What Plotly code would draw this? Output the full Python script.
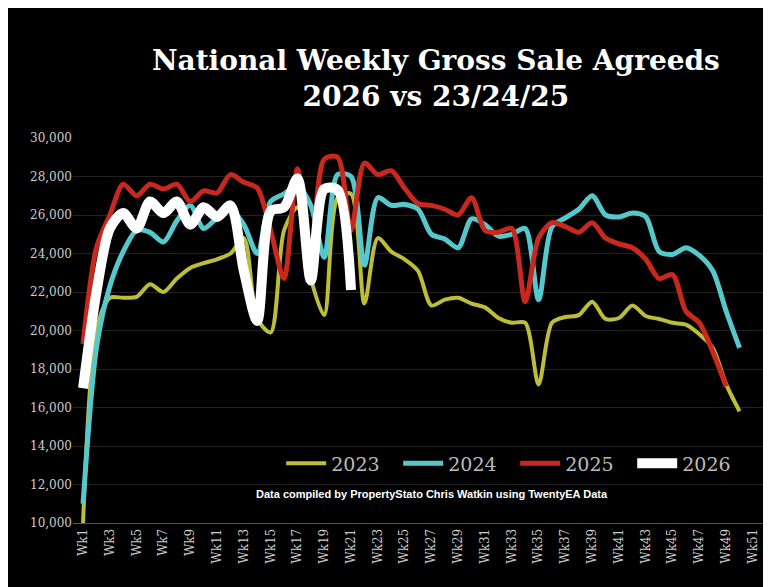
import plotly.graph_objects as go

# Ventas semanales por año
semanas = list(range(1, 51))
datos = {
    '2023': [10000, 20000, 21700, 21700, 21750, 22400, 22000, 22700, 23250, 23500,
             23700, 24000, 24800, 20600, 19900, 25200, 26400, 22700, 20800, 26900,
             27100, 21400, 24800, 24100, 23700, 23100, 21300, 21600, 21700, 21400,
             21200, 20650, 20400, 20400, 17200, 20400, 20700, 20800, 21500, 20600,
             20650, 21300, 20750, 20600, 20400, 20300, 19800, 19100, 17200, 15800],
    '2024': [11000, 19100, 22300, 24100, 25200, 25100, 24600, 25700, 26500, 25300,
             25850, 26300, 25500, 24000, 26700, 27100, 27500, 26500, 23800, 28100,
             28000, 23400, 26900, 26500, 26550, 26300, 25000, 24750, 24300, 25800,
             25500, 24900, 25000, 25300, 21600, 25400, 25850, 26300, 27000, 26000,
             25900, 26100, 25900, 24100, 23950, 24300, 23900, 23100, 21000, 19100],
    '2025': [19300, 24300, 26000, 27600, 27000, 27600, 27350, 27600, 26700, 27250,
             27150, 28100, 27700, 27400, 25200, 22700, 28400, 24000, 28900, 29000,
             25200, 28700, 28100, 28300, 27400, 26600, 26500, 26300, 26000, 26900,
             25200, 25100, 25300, 21500, 24800, 25600, 25400, 25100, 25600, 24800,
             24500, 24300, 23700, 22700, 22900, 21000, 20400, 18900, 17100, None],
    '2026': [17000, 22000, 25300, 26100, 25300, 26700, 26100, 26700, 25500, 26400,
             25900, 26500, 23100, 20500, 26200, 26400, 27900, 22600, 27350, 27300,
             22100],
}
colores = {'2023': '#BDBD3A', '2024': '#55C8CC', '2025': '#C8281E', '2026': '#FFFFFF'}
anchos = {'2023': 4, '2024': 5, '2025': 5, '2026': 10}

fig = go.Figure()

for anio, valores in datos.items():
    fig.add_trace(
        go.Scatter(
            x=semanas[:len(valores)],
            y=valores,
            mode='lines',
            name=anio,
            line=dict(color=colores[anio], width=anchos[anio], shape='spline', smoothing=0.8)
        )
    )

# Nota de la fuente
fig.add_annotation(
    text="Data compiled by PropertyStato Chris Watkin using TwentyEA Data",
    x=0.52, y=0.075, xref='paper', yref='paper', yanchor='middle',
    showarrow=False, font=dict(family='Liberation Sans', size=11, color='white', weight='bold')
)

# Actualizar layout
fig.update_layout(
    width=771, height=587,
    margin=dict(l=65, r=16, t=130, b=72),
    paper_bgcolor='black', plot_bgcolor='black',
    title=dict(text="<b>National Weekly Gross Sale Agreeds<br>2026 vs 23/24/25</b>",
               x=0.555, xanchor='center', y=0.895, yanchor='top',
               font=dict(family='DejaVu Serif', size=28, color='white')),
    showlegend=True,
    legend=dict(orientation='h', x=0.98, y=0.155, xanchor='right', yanchor='middle',
                bgcolor='rgba(0,0,0,0)', font=dict(family='DejaVu Serif', size=19, color='#BBBBBB'),
                itemwidth=40, entrywidth=62, tracegroupgap=0),
)

# Actualizar ejes
fig.update_xaxes(range=[0.25, 51.75], tickvals=list(range(1, 52, 2)),
                 ticktext=[f"Wk{i}" for i in range(1, 52, 2)], tickangle=-90,
                 showgrid=False, zeroline=False, showline=True, linecolor='#555555',
                 tickfont=dict(family='DejaVu Serif', size=12, color='#CCCCCC'))
fig.update_yaxes(range=[10000, 30000], dtick=2000, tickformat=',',
                 gridcolor='#222222', zeroline=False,
                 tickfont=dict(family='DejaVu Serif', size=12, color='#CCCCCC'))

fig.write_html("out.html")
